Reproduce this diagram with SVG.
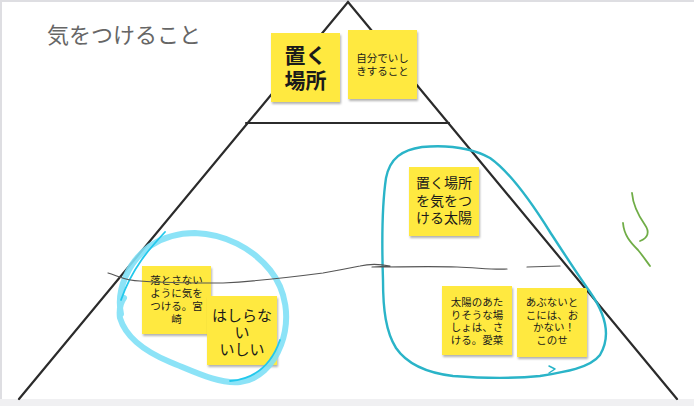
<svg xmlns="http://www.w3.org/2000/svg" width="694" height="406" viewBox="0 0 694 406">
<defs>
<filter id="sh" x="-10%" y="-10%" width="130%" height="130%">
<feDropShadow dx="1" dy="2" stdDeviation="1.2" flood-color="#000" flood-opacity="0.3"/>
</filter>
<style>
.note{fill:#ffe93f;filter:url(#sh)}
.t{font-family:"Noto Sans CJK JP","Noto Sans",sans-serif;fill:#1a1a1a;text-anchor:middle}
.tri{stroke:#2b2b2b;stroke-width:2.2;fill:none;stroke-linecap:round}
</style>
</defs>
<rect x="0" y="0" width="694" height="406" fill="#ffffff"/>
<rect x="0" y="0" width="694" height="2" fill="#dedee2"/>
<rect x="0" y="0" width="2" height="406" fill="#dedee2"/>
<rect x="0" y="399" width="694" height="7" fill="#f0f0f2"/>

<g id="pyramid">
<polyline class="tri" points="19,399 348,2 677,399"/>
<line class="tri" x1="246" y1="123" x2="449" y2="123"/>
</g>

<g id="title">
<text x="47" y="43" font-family="'Noto Sans CJK JP','Noto Sans',sans-serif" font-size="22" fill="#666666">気をつけること</text>
</g>

<g id="note-oku">
<rect class="note" x="271" y="33" width="69" height="69"/>
<text class="t" x="305.5" y="63" font-size="21" font-weight="bold">置く</text>
<text class="t" x="305.5" y="88" font-size="21" font-weight="bold">場所</text>
</g>

<g id="note-jibun">
<rect class="note" x="348" y="30" width="69" height="69"/>
<text class="t" x="382.5" y="62" font-size="10.5">自分でいし</text>
<text class="t" x="382.5" y="75" font-size="10.5">きすること</text>
</g>

<g id="note-taiyou">
<rect class="note" x="409" y="167" width="70" height="69"/>
<text class="t" x="444" y="188" font-size="14">置く場所</text>
<text class="t" x="444" y="205.5" font-size="14">を気をつ</text>
<text class="t" x="444" y="223" font-size="14">ける太陽</text>
</g>

<g id="note-aina">
<rect class="note" x="442" y="286" width="70" height="69"/>
<text class="t" x="477" y="306" font-size="10.5">太陽のあた</text>
<text class="t" x="477" y="318.5" font-size="10.5">りそうな場</text>
<text class="t" x="477" y="331" font-size="10.5">しょは、さ</text>
<text class="t" x="477" y="343.5" font-size="10.5">ける。愛菜</text>
</g>

<g id="note-konose">
<rect class="note" x="517" y="288" width="70" height="69"/>
<text class="t" x="552" y="306" font-size="10.5">あぶないと</text>
<text class="t" x="552" y="318.5" font-size="10.5">こには、お</text>
<text class="t" x="554" y="331" font-size="10.5">かない！</text>
<text class="t" x="552" y="343.5" font-size="10.5">このせ</text>
</g>

<g id="note-miyazaki">
<rect class="note" x="142" y="266" width="69" height="68"/>
<text class="t" x="176.5" y="284" font-size="10.5">落とさない</text>
<text class="t" x="176.5" y="297" font-size="10.5">ように気を</text>
<text class="t" x="176.5" y="310" font-size="10.5">つける。宮</text>
<text class="t" x="176.5" y="322.5" font-size="10.5">崎</text>
</g>

<g id="note-hashiranai">
<rect class="note" x="207" y="296" width="70" height="69"/>
<text class="t" x="242" y="321" font-size="15">はしらな</text>
<text class="t" x="242" y="338" font-size="15">い</text>
<text class="t" x="242" y="355" font-size="15">いしい</text>
</g>

<g id="connectors" fill="none" stroke-linecap="round" stroke-linejoin="round">
<path d="M121,314 C116,290 128,262 150,246 C165,236 180,233 195,233 C225,234 252,248 270,270 C286,290 291,318 281,345 C273,366 258,380 240,382 C218,384 195,372 170,362 C146,352 126,338 120,318 C119,310 121,302 124,298" stroke="#7fe0f6" stroke-width="6" stroke-opacity="0.9"/>
<path d="M165,232 C150,248 132,268 121,300" stroke="#22c8ec" stroke-width="1.8"/>
<path d="M230,381 C256,379 272,363 280,340" stroke="#22c8ec" stroke-width="1.8"/>
<path d="M383,280 C382,250 382,205 386,178 C390,158 402,150 422,147 C445,145 470,147 490,158 C510,172 530,200 550,232 C565,255 578,275 590,292 C604,312 612,335 600,355 C590,368 565,372 540,376 C510,379 480,378 453,376 C428,373 407,364 396,348 C386,332 383,310 383,280 Z" stroke="#2ab4c8" stroke-width="2.4"/>
<path d="M549,366 L555,369 L549,373" stroke="#2ab4c8" stroke-width="1.5"/>
<path d="M108,273 C118,276 126,281 140,281 C165,283 195,283 223,283 C260,281 300,276 323,273 C340,270 350,268 360,266 C368,264 380,264 390,266 L372,267 C400,267 430,266 457,267 C480,268 495,270 507,269" stroke="#555555" stroke-width="1.2"/>
<path d="M527,267 L560,266" stroke="#555555" stroke-width="1.2"/>
<path d="M632,193 C633,205 638,215 645,225 C650,232 648,238 640,241" stroke="#70ad47" stroke-width="1.8"/>
<path d="M623,223 C624,235 630,242 638,250 C643,256 647,262 650,266" stroke="#70ad47" stroke-width="1.8"/>
</g>
</svg>
